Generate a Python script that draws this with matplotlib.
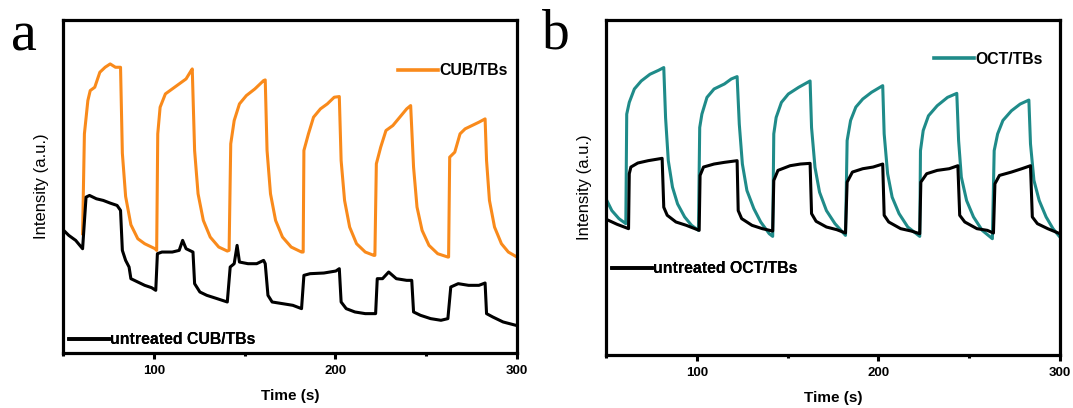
import matplotlib
matplotlib.use("Agg")
import matplotlib.pyplot as plt
from matplotlib.lines import Line2D
from matplotlib.ticker import FixedLocator

# ---- data: photocurrent-like on/off response, time (s) vs intensity (a.u.) ----
cub_t = [60.8, 61.8, 63.7, 65.0, 67.5, 70.3, 73.2, 76.0, 78.9, 81.7,
         82.7, 84.5, 87.4, 91.2, 95.0, 100.7,
         101.6, 102.2, 103.5, 106.4, 110.2, 114.0, 117.8, 120.6, 121.2,
         122.5, 124.4, 127.3, 131.1, 135.8, 140.5,
         141.5, 142.4, 144.3, 147.2, 151.0, 155.7, 160.5, 161.4,
         162.4, 164.3, 167.1, 170.9, 175.7, 181.4,
         182.3, 182.7, 185.2, 188.0, 191.8, 195.6, 199.4, 202.2,
         203.2, 205.1, 207.9, 211.7, 216.5, 221.2,
         221.8, 222.6, 225.0, 227.9, 231.7, 235.5, 239.3, 241.5,
         243.1, 245.0, 247.8, 251.6, 256.4, 262.0,
         262.4, 263.0, 265.8, 268.7, 271.5, 275.3, 279.1, 282.5,
         283.3, 284.9, 287.7, 291.5, 295.3, 299.4]
cub_v = [35.8, 65.8, 75.8, 78.8, 79.8, 84.3, 85.8, 86.8, 85.8, 85.8,
         60.0, 47.0, 38.5, 34.3, 32.8, 31.3,
         30.8, 65.8, 73.8, 77.8, 79.3, 80.8, 82.3, 84.8, 85.3,
         60.8, 47.8, 39.8, 34.8, 31.8, 30.6,
         30.8, 62.8, 69.8, 74.8, 77.3, 79.3, 81.8, 82.0,
         60.8, 47.8, 39.8, 34.8, 31.8, 30.3,
         30.3, 60.8, 65.8, 70.8, 73.3, 74.8, 76.8, 77.0,
         57.8, 45.8, 37.8, 32.8, 30.3, 29.3,
         29.3, 56.8, 61.8, 66.8, 68.3, 70.8, 73.3, 74.3,
         55.8, 43.8, 36.8, 32.3, 29.8, 28.8,
         28.8, 58.8, 60.3, 65.8, 67.3, 68.3, 69.3, 70.3,
         57.8, 45.8, 37.8, 32.8, 30.3, 29.0]

ucub_t = [50.4, 53.2, 57.0, 60.8, 62.7, 64.6, 68.4, 72.2, 76.0, 79.8, 81.7,
          82.7, 84.5, 86.4, 87.4, 91.2, 95.0, 98.8, 101.1,
          102.0, 104.5, 110.2, 114.0, 115.9, 117.8, 121.6,
          122.5, 125.4, 129.2, 134.9, 140.5,
          142.1, 144.3, 145.9, 147.2, 151.9, 156.7, 160.5, 161.4,
          162.9, 165.2, 170.9, 176.6, 181.4,
          182.7, 186.1, 193.7, 200.3, 202.2,
          203.2, 206.0, 210.8, 216.5, 222.2,
          223.1, 226.0, 229.4, 233.6, 239.3, 242.1,
          243.1, 246.9, 252.5, 258.2, 262.0,
          263.6, 267.7, 273.4, 279.1, 282.5,
          283.3, 286.7, 292.4, 299.4]
ucub_v = [36.8, 35.3, 33.8, 31.3, 46.8, 47.3, 46.3, 45.8, 45.0, 44.3, 42.8,
          30.8, 27.8, 25.8, 22.3, 21.3, 20.3, 19.6, 18.8,
          29.8, 30.3, 30.3, 30.8, 33.8, 31.3, 30.3,
          20.8, 18.3, 17.3, 16.3, 15.3,
          25.8, 26.8, 32.3, 27.3, 26.8, 26.8, 27.8, 26.8,
          17.3, 15.3, 14.8, 14.3, 13.3,
          23.3, 23.8, 24.0, 24.6, 25.3,
          15.3, 13.3, 12.3, 11.8, 11.8,
          22.3, 22.3, 24.3, 22.3, 21.8, 21.8,
          12.3, 11.3, 10.3, 9.8, 10.3,
          19.8, 20.8, 20.3, 20.3, 21.0,
          11.8, 10.8, 9.3, 8.3]

oct_t = [50.0, 53.2, 57.1, 60.9,
         61.4, 62.8, 65.6, 69.4, 74.2, 79.0, 81.8,
         82.8, 84.3, 86.6, 89.4, 93.3, 97.1, 100.9,
         101.6, 102.8, 105.6, 109.5, 115.2, 119.0, 122.2,
         123.4, 125.1, 127.6, 131.4, 135.2, 139.9, 141.8,
         142.4, 143.7, 146.6, 150.4, 156.1, 162.4,
         163.2, 165.1, 167.6, 171.4, 176.1, 181.9,
         182.8, 184.7, 187.6, 191.4, 196.2, 202.4,
         203.2, 205.1, 207.6, 211.4, 216.2, 222.8,
         223.2, 224.7, 227.6, 232.4, 238.1, 243.2,
         244.2, 245.7, 248.6, 252.4, 257.2, 262.8,
         263.8, 265.7, 268.6, 273.3, 278.1, 282.9,
         283.8, 285.7, 288.6, 292.4, 296.2, 300.0]
oct_v = [46.6, 43.1, 40.7, 39.2,
         71.9, 75.4, 79.4, 81.8, 83.8, 85.0, 85.8,
         70.8, 58.0, 50.1, 45.1, 41.2, 38.7, 37.2,
         67.9, 71.9, 76.9, 79.4, 80.9, 82.4, 83.1,
         68.9, 57.0, 49.1, 43.7, 39.7, 36.2, 35.4,
         66.0, 70.9, 75.4, 77.9, 79.9, 81.8,
         67.9, 56.0, 48.6, 43.1, 39.2, 35.7,
         64.0, 70.0, 74.0, 76.4, 78.4, 80.4,
         66.0, 54.1, 47.1, 42.2, 38.2, 35.4,
         61.0, 67.0, 71.4, 74.4, 76.9, 78.1,
         64.0, 53.1, 46.1, 41.2, 37.2, 34.7,
         61.0, 66.0, 70.0, 72.9, 74.9, 76.1,
         63.0, 52.1, 46.1, 41.2, 37.7, 35.2]

uoct_t = [51.3, 56.1, 62.4,
          62.8, 63.7, 67.5, 73.2, 80.9,
          81.8, 83.7, 88.5, 94.2, 101.3,
          101.8, 103.7, 109.5, 115.2, 122.2,
          122.8, 124.7, 130.4, 136.1, 141.8,
          142.4, 144.7, 151.4, 157.1, 162.4,
          163.2, 165.7, 171.4, 177.1, 181.9,
          182.8, 185.7, 191.4, 197.1, 202.4,
          203.2, 205.7, 212.3, 218.1, 222.8,
          223.4, 226.6, 232.4, 239.0, 243.8,
          244.8, 247.6, 254.3, 260.0, 263.4,
          264.2, 266.7, 273.3, 279.0, 283.8,
          284.8, 287.6, 293.3, 300.0]
uoct_v = [40.2, 39.0, 37.7,
          54.1, 56.1, 57.3, 58.0, 58.7,
          44.1, 41.7, 39.7, 38.7, 37.2,
          53.6, 56.1, 57.0, 57.5, 58.0,
          43.1, 40.7, 38.7, 37.7, 37.0,
          52.1, 55.1, 56.5, 57.0, 57.2,
          42.2, 39.9, 38.2, 37.4, 36.4,
          51.6, 54.6, 55.6, 56.1, 57.0,
          41.7, 39.7, 37.7, 37.0, 36.2,
          51.6, 54.1, 55.1, 55.6, 56.5,
          41.7, 39.7, 37.7, 37.2, 36.4,
          51.1, 53.6, 54.6, 55.6, 56.5,
          41.2, 39.2, 37.7, 36.2]

x_major = [100, 200, 300]
x_minor = [50, 150, 250]
x_labels = ["100", "200", "300"]

ORANGE = "#F98A1B"
TEAL = "#1F8B89"
SANS = "Liberation Sans"

fig = plt.figure(figsize=(10.73, 4.08), dpi=100)
ax_a = fig.add_axes([0.0587, 0.135, 0.423, 0.816])
ax_b = fig.add_axes([0.5648, 0.130, 0.423, 0.821])


def style_axes(ax):
    ax.set_xlim(50, 300)
    ax.set_ylim(0, 100)
    for sp in ax.spines.values():
        sp.set_linewidth(2.3)
    ax.xaxis.set_major_locator(FixedLocator(x_major))
    ax.xaxis.set_minor_locator(FixedLocator(x_minor))
    ax.set_xticklabels(x_labels)
    ax.tick_params(axis="x", which="major", direction="out", length=4, width=2.2, pad=5)
    ax.tick_params(axis="x", which="minor", direction="out", length=2.5, width=2.2)
    ax.set_yticks([])
    for lab in ax.get_xticklabels():
        lab.set_fontfamily(SANS)
        lab.set_fontweight("bold")
        lab.set_fontsize(9.5)
    ax.set_xlabel("Time (s)", fontfamily=SANS, fontweight="bold", fontsize=11, labelpad=8)
    ax.set_ylabel("Intensity (a.u.)", fontfamily=SANS, fontsize=12, labelpad=10)


def add_legend(ax, handle, label, x, y):
    leg = ax.legend([handle], [label], loc="center left", bbox_to_anchor=(x, y),
                    frameon=False, borderpad=0, borderaxespad=0,
                    handlelength=2.55, handletextpad=0.05,
                    prop={"family": SANS, "weight": "bold", "size": 11.4})
    ax.add_artist(leg)


# panel a
ax_a.plot(cub_t, cub_v, color=ORANGE, lw=2.2, solid_joinstyle="round")
ax_a.plot(ucub_t, ucub_v, color="black", lw=2.2, solid_joinstyle="round")
style_axes(ax_a)
add_legend(ax_a, Line2D([], [], color=ORANGE, lw=2.6), "CUB/TBs", 0.738, 0.847)
add_legend(ax_a, Line2D([], [], color="black", lw=2.6), "untreated CUB/TBs", 0.013, 0.039)

# panel b
ax_b.plot(oct_t, oct_v, color=TEAL, lw=2.2, solid_joinstyle="round")
ax_b.plot(uoct_t, uoct_v, color="black", lw=2.2, solid_joinstyle="round")
style_axes(ax_b)
add_legend(ax_b, Line2D([], [], color=TEAL, lw=2.6), "OCT/TBs", 0.722, 0.882)
add_legend(ax_b, Line2D([], [], color="black", lw=2.6), "untreated OCT/TBs", 0.013, 0.257)

fig.text(0.010, 0.877, "a", fontfamily="Liberation Serif", fontsize=42, va="baseline")
fig.text(0.505, 0.882, "b", fontfamily="Liberation Serif", fontsize=40, va="baseline")

fig.savefig("out.png", dpi=100, facecolor="white")
